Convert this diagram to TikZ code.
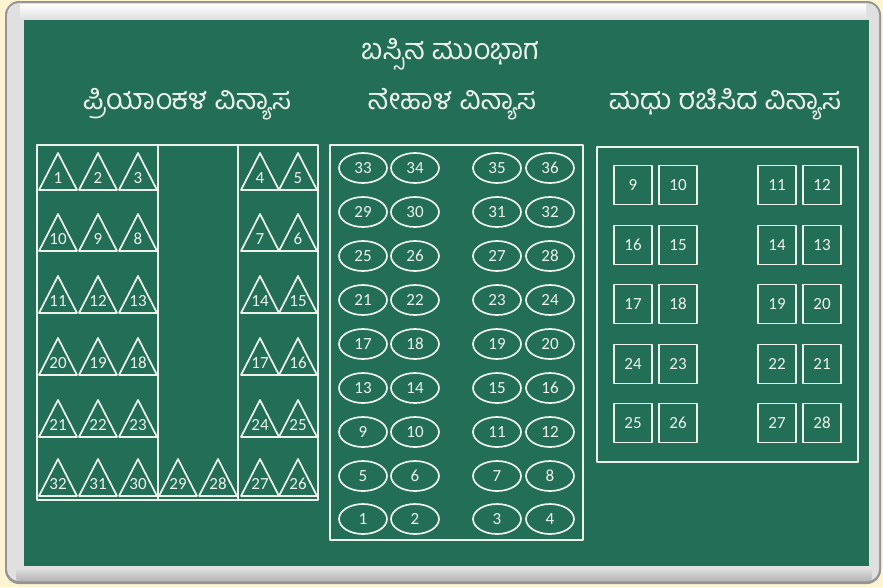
\documentclass[tikz,border=0pt]{standalone}
\usepackage{fontspec}
\setmainfont{Carlito}
\newfontfamily\kanfont[Script=Kannada]{Hind Mysuru}
\definecolor{cream}{HTML}{FFF4D2}
\definecolor{board}{HTML}{226E57}
\definecolor{chalk}{HTML}{EEF3EC}
\definecolor{framelt}{HTML}{E0E0E0}
\definecolor{framedk}{HTML}{959595}
\tikzset{
  chalkline/.style={draw=chalk, line width=1.7pt, line join=round},
  seatnum/.style={text=chalk, font=\fontsize{17}{17}\selectfont, inner sep=0pt},
  title/.style={text=chalk, font=\kanfont\fontsize{29}{29}\selectfont, inner sep=0pt},
}
\begin{document}
\begin{tikzpicture}[x=1pt,y=-1pt]
\useasboundingbox (0,0) rectangle (883,587);
\fill[cream] (0,0) rectangle (883,587);
% frame
\fill[framedk, rounded corners=14pt] (5,1) rectangle (881,584);
\fill[framelt, rounded corners=12pt] (7,3) rectangle (879,581);
\shade[top color=framelt, bottom color=framedk!70, rounded corners=3pt] (16,568) rectangle (872,581);
\shade[top color=white, bottom color=framelt] (20,4) rectangle (866,19);
\fill[board] (24,20) rectangle (869,566);
% titles
\node[title] (top) at (450,54) {ಬಸ್ಸಿನ ಮುಂಭಾಗ};
\node[title] (tp) at (187,104) {ಪ್ರಿಯಾಂಕಳ ವಿನ್ಯಾಸ};
\node[title] (tn) at (452,104) {ನೇಹಾಳ ವಿನ್ಯಾಸ};
\node[title] (tm) at (725,104) {ಮಧು ರಚಿಸಿದ ವಿನ್ಯಾಸ};
% left panel
\draw[chalkline] (37,145) rectangle (318,500);
\draw[chalkline] (158,145) -- (158,500);
\draw[chalkline] (238,145) -- (238,500);
\foreach \cx/\by/\n in {
  58/190/1, 98/190/2, 138/190/3, 260/190/4, 298/190/5,
  58/251/10, 98/251/9, 138/251/8, 260/251/7, 298/251/6,
  58/313/11, 98/313/12, 138/313/13, 260/313/14, 298/313/15,
  58/375/20, 98/375/19, 138/375/18, 260/375/17, 298/375/16,
  58/437/21, 98/437/22, 138/437/23, 260/437/24, 298/437/25,
  58/496/32, 98/496/31, 138/496/30, 178/496/29, 218/496/28, 260/496/27, 298/496/26}{
  \draw[chalkline] (\cx-19,\by) -- (\cx,\by-37) -- (\cx+19,\by) -- cycle;
  \node[seatnum] (p\n) at (\cx,\by-12) {\n};
}
% middle panel
\draw[chalkline] (330,145) rectangle (583,540);
\foreach \cy/\a/\b/\c/\d in {
  168/33/34/35/36, 212/29/30/31/32, 256/25/26/27/28, 300/21/22/23/24,
  344/17/18/19/20, 388/13/14/15/16, 432/9/10/11/12, 476/5/6/7/8, 519/1/2/3/4}{
  \foreach \cx/\n in {363/\a, 415/\b, 497/\c, 550/\d}{
    \draw[chalkline] (\cx,\cy) ellipse [x radius=24, y radius=15];
    \node[seatnum] (n\n) at (\cx,\cy) {\n};
  }
}
% right panel
\draw[chalkline] (597,147) rectangle (858,462);
\foreach \cy/\a/\b/\c/\d in {
  185/9/10/11/12, 245/16/15/14/13, 304/17/18/19/20, 364/24/23/22/21, 423/25/26/27/28}{
  \foreach \cx/\n in {633/\a, 678/\b, 777/\c, 822/\d}{
    \draw[chalkline] (\cx-19,\cy-19.5) rectangle (\cx+19,\cy+19.5);
    \node[seatnum] (m\n) at (\cx,\cy) {\n};
  }
}
\end{tikzpicture}
\end{document}
